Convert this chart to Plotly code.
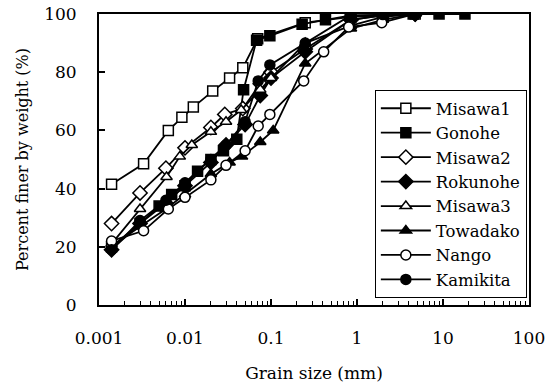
import plotly.graph_objects as go

series_names = ["Misawa1", "Gonohe", "Misawa2", "Rokunohe", "Misawa3", "Towadako", "Nango", "Kamikita"]

misawa1_x = [0.0014, 0.0033, 0.0064, 0.0092, 0.0125, 0.021, 0.033, 0.047, 0.07, 0.25, 0.85, 2, 4.75]
misawa1_y = [41.5, 48.5, 60, 64.5, 68, 73.5, 78, 81.5, 91.5, 97, 99, 99.5, 100]

gonohe_x = [0.0014, 0.003, 0.005, 0.007, 0.01, 0.014, 0.02, 0.028, 0.04, 0.048, 0.068, 0.097, 0.23, 0.43, 0.85, 2, 4.5, 9, 18]
gonohe_y = [20, 28, 34, 38, 41, 46, 50, 53, 57, 74, 91, 92.5, 96.5, 98, 99.5, 99.5, 100, 100, 100]

misawa2_x = [0.0014, 0.003, 0.006, 0.01, 0.02, 0.029, 0.047, 0.075, 0.1, 0.25, 0.85, 2, 4.75]
misawa2_y = [28, 38.5, 47, 54, 61, 65.5, 67.5, 76, 80, 88, 98, 99.5, 100]

rokunohe_x = [0.0014, 0.003, 0.006, 0.01, 0.02, 0.03, 0.05, 0.075, 0.1, 0.25, 0.85, 2, 4.75]
rokunohe_y = [19, 28, 35, 41, 49, 55, 62, 72, 78, 87, 98, 99.5, 100]

misawa3_x = [0.0014, 0.003, 0.0061, 0.0087, 0.012, 0.02, 0.03, 0.045, 0.075, 0.1, 0.25, 0.85, 2, 4.75]
misawa3_y = [21, 33, 44, 51, 55, 59.5, 63, 67, 74, 78, 90, 96, 99, 100]

towadako_x = [0.0014, 0.003, 0.006, 0.01, 0.02, 0.033, 0.046, 0.075, 0.106, 0.25, 0.85, 2, 4.75]
towadako_y = [20, 27, 33, 38, 45, 49, 51, 56, 60, 83, 95, 98, 100]

nango_x = [0.0014, 0.0033, 0.0064, 0.01, 0.02, 0.03, 0.05, 0.071, 0.097, 0.24, 0.41, 0.8, 1.94, 4.75]
nango_y = [22, 25.5, 33, 37, 43, 48, 53, 61.5, 65.5, 77, 87, 95.5, 97, 100]

kamikita_x = [0.0014, 0.003, 0.006, 0.01, 0.02, 0.03, 0.05, 0.071, 0.097, 0.25, 0.83, 2, 4.75]
kamikita_y = [19, 29, 36, 42, 50, 55, 63, 77, 82.5, 90, 99.4, 99.8, 100]

xs = [misawa1_x, gonohe_x, misawa2_x, rokunohe_x, misawa3_x, towadako_x, nango_x, kamikita_x]
ys = [misawa1_y, gonohe_y, misawa2_y, rokunohe_y, misawa3_y, towadako_y, nango_y, kamikita_y]
symbols = ["square", "square", "diamond", "diamond", "triangle-up", "triangle-up", "circle", "circle"]
fills = ["white", "black", "white", "black", "white", "black", "white", "black"]

x_tickvals = [0.001, 0.01, 0.1, 1, 10, 100]
x_ticktext = ["0.001", "0.01", "0.1", "1", "10", "100"]
y_tickvals = [0, 20, 40, 60, 80, 100]

FONT = "DejaVu Serif, Liberation Serif, serif"

fig = go.Figure()
for name, x, y, sym, fc in zip(series_names, xs, ys, symbols, fills):
    fig.add_trace(go.Scatter(
        x=x, y=y, name=name, mode="lines+markers",
        line=dict(color="black", width=1.8),
        marker=dict(symbol=sym, size=10 if sym != "diamond" else 11, color=fc,
                    line=dict(color="black", width=1.5)),
    ))

fig.update_layout(
    width=547, height=389,
    margin=dict(l=99, r=18, t=14, b=84, autoexpand=False),
    paper_bgcolor="white", plot_bgcolor="white",
    font=dict(family=FONT, size=17, color="black"),
    showlegend=True,
    legend=dict(x=0.995, y=0.024, xanchor="right", yanchor="bottom",
                bordercolor="black", borderwidth=1, bgcolor="white",
                font=dict(family=FONT, size=16.5), itemwidth=50,
                tracegroupgap=0, traceorder="normal"),
)
fig.update_xaxes(
    type="log", range=[-3, 2], automargin=False,
    tickvals=x_tickvals, ticktext=x_ticktext,
    ticks="inside", ticklen=6, tickwidth=1.5, tickcolor="black",
    ticklabelstandoff=17,
    minor=dict(ticks="inside", ticklen=4, tickwidth=1, tickcolor="black", dtick="D1", showgrid=False),
    showline=True, linecolor="black", linewidth=2, mirror=True,
    showgrid=False, zeroline=False,
    title=dict(text="Grain size (mm)", standoff=20, font=dict(family=FONT, size=17)),
    tickfont=dict(family=FONT, size=17),
)
fig.update_yaxes(
    range=[0, 100], tickvals=y_tickvals, automargin=False,
    ticks="inside", ticklen=6, tickwidth=1.5, tickcolor="black",
    ticklabelstandoff=17,
    showline=True, linecolor="black", linewidth=2, mirror=True,
    showgrid=False, zeroline=False,
    title=dict(text="Percent finer by weight (%)", standoff=12, font=dict(family=FONT, size=16)),
    tickfont=dict(family=FONT, size=17),
)

fig.write_html("out.html", config={"displayModeBar": False},
               post_script="document.body.style.margin='0';")
